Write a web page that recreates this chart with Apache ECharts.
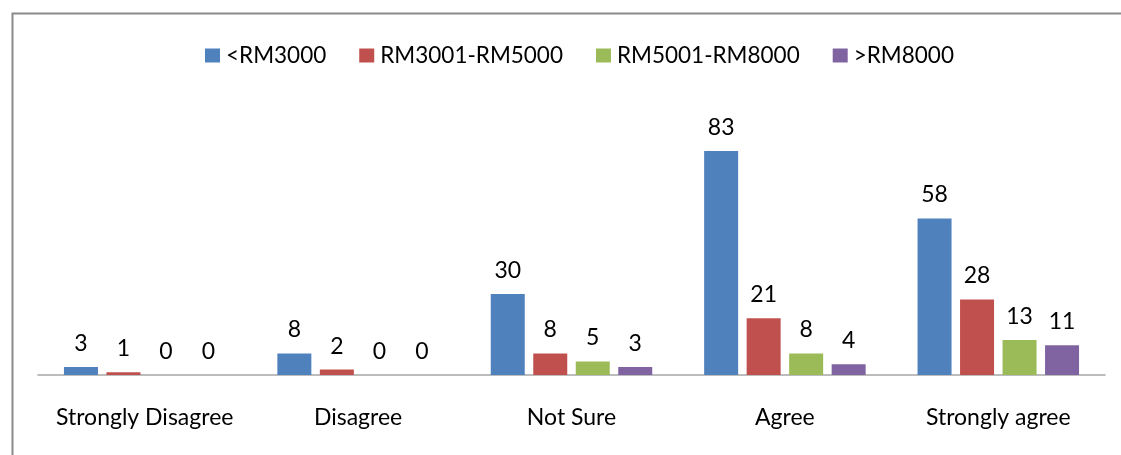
<!DOCTYPE html>
<html>
<head>
<meta charset="utf-8">
<script src="https://cdn.jsdelivr.net/npm/echarts@6/dist/echarts.min.js"></script>
<style>html,body{margin:0;padding:0;background:#fff}#c{width:1121px;height:455px}</style>
</head>
<body>
<div id="c"></div>
<script>
const categories = ['Strongly Disagree', 'Disagree', 'Not Sure', 'Agree', 'Strongly agree'];
const seriesNames = ['<RM3000', 'RM3001-RM5000', 'RM5001-RM8000', '>RM8000'];
const lessThan3000 = [3, 8, 30, 83, 58];
const rm3001to5000 = [1, 2, 8, 21, 28];
const rm5001to8000 = [0, 0, 5, 8, 13];
const moreThan8000 = [0, 0, 3, 4, 11];
const colors = ['#4F81BD', '#C0504D', '#9BBB59', '#8064A2'];

const dataSets = [lessThan3000, rm3001to5000, rm5001to8000, moreThan8000];
const font = 'Lato';
const fs = 23;
const chart = echarts.init(document.getElementById('c'));
chart.setOption({
  animation: false,
  textStyle: { fontFamily: font },
  graphic: [{
    type: 'rect', left: 10, top: 11, z: -1,
    shape: { width: 1130, height: 470 },
    style: { fill: 'none', stroke: '#8a8a8a', lineWidth: 2 }
  }],
  legend: {
    left: 200, top: 39, itemWidth: 15, itemHeight: 14, itemGap: 33,
    icon: 'rect',
    textStyle: { fontSize: 22.5, color: '#000', fontFamily: font, padding: [0,0,0,1] },
    data: seriesNames
  },
  grid: { left: 38, right: 16, top: 132, bottom: 80 },
  xAxis: {
    type: 'category', data: categories,
    axisLine: { lineStyle: { color: '#a6a6a6', width: 1.5 } },
    axisTick: { show: false },
    axisLabel: { interval: 0, fontSize: fs, color: '#000', margin: 31, fontFamily: font }
  },
  yAxis: {
    type: 'value', min: 0, max: 90, interval: 10,
    show: false, splitLine: { show: false }
  },
  series: seriesNames.map((n, i) => ({
    name: n, type: 'bar', data: dataSets[i],
    barWidth: 34, barGap: '25%',
    itemStyle: { color: colors[i] },
    label: { show: true, position: 'top', distance: 12, fontSize: fs, color: '#000', fontFamily: font }
  }))
});
</script>
</body>
</html>
